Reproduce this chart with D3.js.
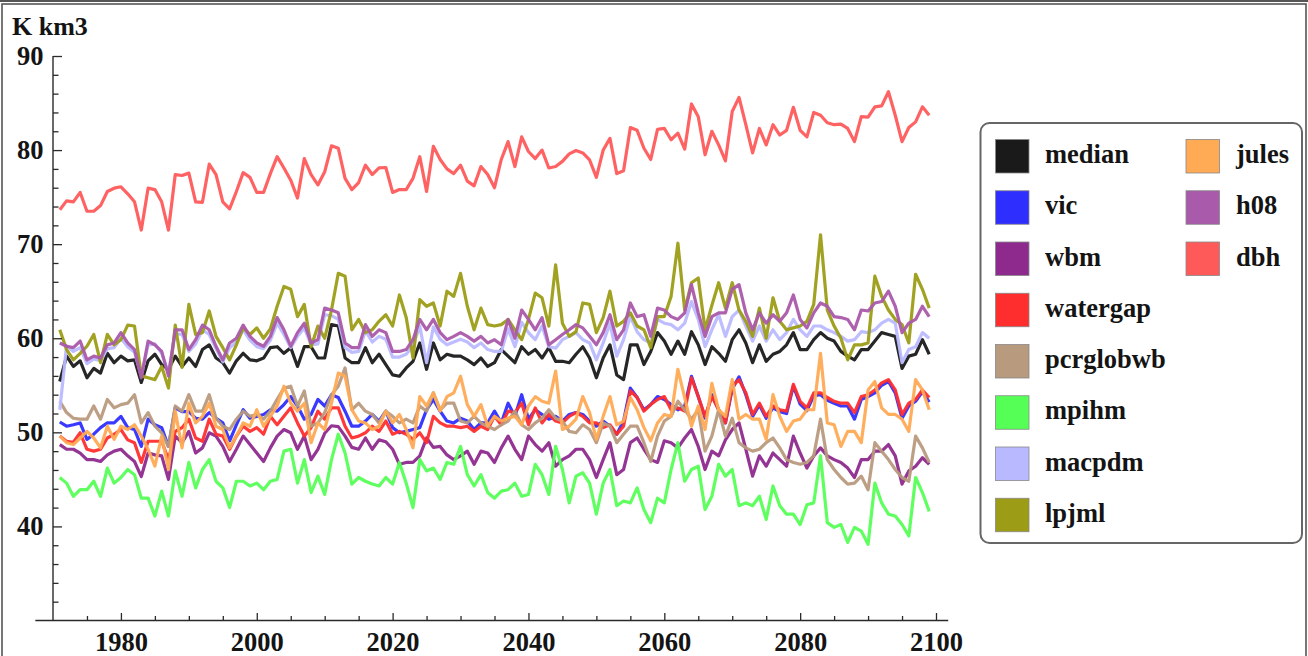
<!DOCTYPE html>
<html><head><meta charset="utf-8">
<script src="https://cdn.jsdelivr.net/npm/d3@7"></script>
<style>
html,body{margin:0;padding:0;background:#fff;}
svg{display:block;}
text{font-family:"Liberation Serif","Times New Roman",serif;font-weight:bold;fill:#141414;}
</style></head><body>
<svg id="chart" width="1308" height="656"></svg>
<script>
// ---------- data (annual values 1971..2099, K km3) ----------
const years = d3.range(1971, 2100);

const median = [
55.4,58.1,57.0,57.6,55.8,56.8,56.3,58.4,57.4,58.1,
57.6,57.7,55.3,57.6,58.3,57.2,56.7,58.1,57.0,57.9,
57.0,58.8,59.3,57.9,57.4,56.3,57.6,58.4,57.7,57.6,
57.9,59.0,59.1,58.4,59.0,57.0,59.1,59.1,57.9,57.9,
61.45,61.3,57.9,57.4,57.4,59.0,57.4,58.3,57.2,56.1,
55.96,56.85,57.55,59.5,56.7,59.5,57.7,58.3,58.1,58.1,
57.7,57.2,57.9,57.0,57.4,58.8,58.1,57.4,59.1,58.3,
58.8,57.9,59.0,57.55,57.55,57.4,58.3,59.1,57.9,55.8,
57.9,59.3,56.1,55.6,59.3,59.3,57.2,58.6,60.6,59.7,
58.3,59.7,58.3,60.7,59.3,57.2,59.1,58.4,57.55,59.85,
60.9,59.5,57.4,59.3,57.55,58.3,58.6,59.3,60.6,58.8,
58.8,59.85,60.6,60.0,59.7,58.6,58.1,57.7,58.8,58.8,
59.7,60.6,60.4,60.2,56.8,58.1,58.3,59.85,58.3];

const vic = [
51.1,50.65,50.8,51.0,49.25,49.8,50.5,51.0,51.0,51.7,
50.5,50.3,48.5,51.4,50.8,50.5,48.5,52.6,52.2,52.2,
51.5,51.4,52.1,51.5,51.0,49.1,50.8,52.4,51.5,51.7,
51.9,52.4,52.25,52.95,53.8,52.8,51.4,51.9,53.5,52.8,
54.0,53.7,52.25,50.65,50.65,51.2,51.9,51.2,52.25,50.5,
49.95,50.1,50.3,50.5,52.4,53.5,52.25,51.2,51.0,51.5,
51.2,50.3,51.0,51.0,52.25,51.0,53.1,51.7,54.0,51.4,
52.4,51.9,51.4,51.7,51.2,51.9,52.1,51.9,51.2,50.65,
51.2,50.65,49.8,51.2,54.7,53.7,52.4,52.95,53.8,53.5,
52.95,52.4,52.8,55.96,53.8,51.5,54.0,52.4,51.0,54.6,
55.9,54.0,51.7,52.9,51.5,52.6,52.2,52.0,54.9,53.0,
52.3,53.9,54.0,53.4,53.1,52.8,52.8,51.4,53.5,53.8,
54.2,55.0,55.4,54.2,51.5,52.8,53.3,54.3,53.2];

const wbm = [
48.7,48.2,48.2,47.8,47.1,47.1,46.9,47.6,48.0,48.2,
47.5,46.9,45.3,47.8,47.6,47.5,45.0,49.6,48.9,50.1,
47.8,48.35,49.95,49.6,48.5,46.9,48.2,49.6,48.7,47.8,
46.9,48.35,49.6,50.3,49.95,48.2,49.6,47.1,48.2,49.9,
50.7,50.6,49.6,48.4,48.2,49.4,48.2,49.2,49.0,48.2,
46.6,46.8,46.8,47.5,49.4,48.4,48.5,47.6,47.1,47.5,
48.0,46.6,48.0,47.8,46.8,48.35,49.6,48.2,47.1,49.6,
48.7,48.0,48.9,46.4,47.1,47.5,48.2,48.2,47.1,45.2,
47.1,48.9,45.5,46.05,48.9,49.4,48.2,47.1,46.8,49.1,
48.9,48.35,49.4,50.3,48.5,46.05,48.0,47.5,49.2,50.3,
51.0,48.2,45.35,47.5,46.4,47.8,47.1,46.4,49.6,47.8,
46.2,47.5,48.35,47.5,47.1,46.8,46.2,45.2,47.1,47.1,
48.0,48.0,48.7,47.5,44.5,45.9,46.4,47.3,46.6];

const watergap = [
49.6,49.05,48.95,49.95,48.2,48.0,48.2,49.4,49.8,50.3,
49.2,48.9,46.8,49.05,49.05,49.05,47.1,50.1,50.5,51.4,
49.4,49.05,51.4,49.8,49.6,48.2,49.6,50.65,50.1,50.5,
49.8,51.7,50.8,51.7,52.6,51.0,49.6,50.5,52.25,51.4,
52.6,52.6,50.65,49.4,49.6,49.95,50.65,50.1,51.2,49.8,
50.1,49.8,49.25,49.95,48.9,51.7,51.0,50.65,50.65,50.5,
50.65,50.1,50.65,50.3,51.7,50.8,52.25,52.1,53.1,50.8,
52.6,51.0,51.9,51.2,51.0,51.7,52.1,51.7,51.0,51.0,
50.5,50.8,49.8,50.65,54.4,53.7,52.25,52.95,53.5,53.8,
52.4,52.6,52.25,55.8,53.8,51.7,53.8,52.4,51.0,54.9,
55.6,54.2,51.9,53.1,51.7,52.8,52.4,52.25,55.1,53.3,
52.6,54.2,54.2,53.7,53.3,53.1,53.1,52.1,53.8,54.0,
54.5,55.25,55.6,54.5,51.9,53.1,53.5,54.5,53.7];

const pcrglobwb = [
53.3,52.1,51.5,51.4,51.4,52.8,51.4,53.5,52.6,52.95,
53.1,54.0,51.0,52.1,50.65,49.95,48.5,52.8,52.25,54.0,
52.25,52.25,54.0,51.5,50.65,50.3,51.4,52.25,51.7,51.9,
51.4,52.25,53.5,54.7,54.9,52.8,54.4,50.65,51.0,52.1,
54.0,54.9,56.85,52.4,53.1,52.25,51.9,51.0,52.25,51.7,
51.0,51.4,51.0,52.8,52.25,54.2,52.4,53.1,53.1,51.2,
51.0,51.7,51.0,50.65,50.3,50.8,51.2,52.25,50.8,50.3,
51.0,51.5,52.4,51.5,51.2,50.1,49.95,50.8,50.3,48.9,
51.0,50.65,48.9,49.8,50.65,50.65,48.9,46.9,49.6,51.2,
51.7,53.3,52.4,51.4,52.4,48.0,49.6,52.4,49.6,51.5,
48.9,48.35,48.0,48.2,48.9,49.4,48.35,47.1,46.8,46.6,
46.8,47.5,51.4,47.1,46.05,45.2,44.5,44.6,45.35,43.9,
48.9,48.0,47.1,46.05,45.2,44.8,49.6,48.35,46.8];

const mpihm = [
45.2,44.6,43.2,43.9,43.9,44.8,43.2,46.2,44.6,45.2,
46.05,45.5,43.0,43.0,41.1,43.75,41.1,45.9,43.2,46.8,
44.1,46.05,47.1,44.8,44.1,42.0,44.8,44.8,44.3,44.6,
43.9,44.8,45.0,48.0,48.2,44.6,47.1,43.6,45.35,43.4,
47.1,49.8,47.8,44.5,45.2,44.8,44.5,44.3,45.2,44.5,
46.8,44.6,42.0,47.1,45.9,46.2,45.0,46.8,46.6,48.5,
45.5,44.3,45.5,43.6,43.0,43.75,43.9,44.6,43.2,43.4,
46.6,45.5,43.4,48.5,46.05,42.5,45.35,45.7,44.6,41.3,
44.6,46.05,42.2,42.7,42.5,44.1,41.8,40.4,43.0,42.5,
46.05,48.9,44.8,46.05,46.4,41.8,43.2,46.6,45.35,46.05,
42.2,42.5,42.2,43.2,40.75,44.3,42.2,41.3,41.3,40.2,
42.3,42.5,47.5,40.4,39.9,40.2,38.3,39.9,39.5,38.1,
44.6,42.5,41.3,41.1,40.2,39.0,45.2,43.6,41.6];

const macpdm = [
52.4,59.2,58.6,59.0,57.3,57.8,57.6,58.9,59.0,60.0,
59.1,58.5,56.0,59.3,59.4,58.4,56.3,60.5,60.4,58.6,
59.4,60.9,60.4,58.9,57.5,59.0,59.6,60.9,59.8,59.1,
58.9,59.8,61.6,60.4,59.0,60.2,61.1,59.3,59.4,62.5,
62.4,62.0,59.0,58.5,58.6,60.8,59.6,60.2,59.9,58.0,
58.0,58.3,59.2,61.3,57.4,61.2,59.9,59.3,59.6,59.9,
59.6,59.0,59.5,58.8,58.6,58.6,61.0,59.1,61.7,60.6,
59.85,61.3,59.1,58.95,59.85,60.2,60.6,59.85,59.5,57.7,
59.5,61.6,58.1,59.85,62.3,60.7,59.85,59.5,62.0,61.6,
61.45,60.9,61.6,63.9,62.0,59.1,60.9,62.5,60.2,62.3,
63.0,61.3,59.7,61.3,59.7,60.9,59.85,60.6,62.0,60.9,
60.2,61.3,61.3,60.9,60.6,60.2,59.7,59.85,60.7,60.6,
60.9,61.6,62.0,61.6,57.4,58.8,59.1,60.6,60.0];

const lpjml = [
60.9,58.8,57.7,58.4,59.15,60.4,57.4,60.4,59.3,59.85,
61.4,61.3,56.0,55.8,55.6,57.0,54.7,61.4,56.9,63.6,
60.4,60.6,62.9,60.2,59.0,57.7,59.3,61.1,60.4,61.1,
60.0,61.0,63.4,65.5,65.2,62.3,63.6,59.1,61.3,60.0,
63.0,66.9,66.6,60.9,62.0,60.6,60.9,61.8,62.5,61.3,
64.6,62.2,57.9,64.1,63.4,63.75,61.3,65.0,64.45,66.9,
63.4,60.9,63.2,61.45,61.3,61.45,62.0,60.9,59.85,62.0,
64.8,64.3,61.3,67.8,61.6,60.2,60.7,63.75,63.6,60.6,
62.2,65.0,61.3,61.8,62.7,61.3,60.9,59.0,62.3,62.3,
64.45,70.1,63.0,65.9,66.4,60.9,63.5,65.9,63.2,65.9,
63.0,61.8,60.2,63.2,60.0,64.3,61.8,60.9,61.1,61.3,
61.8,63.6,71.0,63.0,61.3,60.0,57.7,59.3,59.3,59.5,
66.6,64.45,63.0,62.0,61.45,59.5,66.8,65.2,63.2];

const jules = [
49.6,48.9,48.7,49.4,50.1,49.4,48.35,50.65,49.25,50.65,
50.3,50.8,49.6,48.2,46.4,49.6,46.05,52.25,48.35,53.1,
51.0,51.7,53.1,50.65,50.3,48.35,49.6,51.0,50.65,52.4,
50.65,51.7,52.8,54.9,53.1,52.25,53.1,48.9,51.0,50.3,
53.1,56.3,55.96,52.4,51.2,51.0,50.3,50.65,52.25,51.0,
51.9,50.3,48.35,53.8,52.8,54.2,52.25,53.8,54.2,55.96,
52.95,51.7,52.95,50.65,51.7,51.2,51.5,51.7,50.8,52.8,
53.8,53.3,53.1,56.5,50.3,50.65,51.4,53.8,52.1,49.25,
51.7,53.8,50.8,51.2,53.7,52.4,50.5,49.1,51.0,51.9,
51.7,56.7,53.7,50.65,52.8,50.3,55.2,52.4,51.7,55.6,
51.4,51.9,51.4,51.4,49.25,54.0,51.7,50.1,51.2,51.4,
52.4,52.4,58.4,51.0,50.8,48.5,50.1,50.1,48.9,54.5,
55.4,52.6,51.9,51.9,51.4,50.1,55.6,54.5,52.4];

const h08 = [
59.5,59.15,59.0,59.7,57.7,58.1,57.9,59.3,59.5,60.6,
59.5,58.8,55.8,59.7,59.3,58.6,56.0,60.9,60.9,58.8,
59.85,61.4,60.9,59.15,57.7,59.5,60.0,61.4,60.2,59.5,
59.15,60.2,62.2,60.9,59.15,60.6,61.6,59.5,59.85,63.2,
63.0,62.7,59.5,59.0,59.0,61.45,60.2,60.9,60.6,58.6,
58.6,58.8,59.85,62.0,60.9,62.0,60.6,59.85,60.2,60.6,
60.2,59.7,60.2,59.5,59.85,59.3,62.0,60.0,63.0,62.0,
60.9,62.2,59.3,59.85,60.4,60.9,61.45,61.1,60.2,59.3,
60.6,62.5,59.85,60.9,63.75,62.3,62.5,60.2,63.2,63.0,
62.3,62.0,62.7,65.7,62.7,60.2,62.3,62.7,62.7,65.2,
65.7,62.7,60.9,62.7,61.6,62.5,61.8,62.7,64.6,62.0,
61.1,62.7,63.75,63.4,62.3,62.2,62.0,60.9,63.0,62.9,
63.75,63.9,65.0,63.4,60.6,61.6,62.0,63.4,62.3];

const dbh = [
73.65,74.6,74.5,75.5,73.5,73.5,74.1,75.6,75.95,76.1,
75.35,74.5,71.5,75.95,75.8,74.5,71.5,77.4,77.3,77.55,
74.5,74.45,78.5,77.4,74.5,73.75,75.6,77.6,77.1,75.5,
75.5,77.5,79.3,78.1,76.8,74.9,79.1,77.4,76.3,77.7,
80.45,80.2,77.0,75.8,76.55,78.4,77.4,78.1,78.15,75.5,
75.8,75.8,77.0,79.3,75.6,80.4,79.0,78.0,77.5,78.4,
76.7,76.2,78.25,77.4,76.0,79.0,80.9,78.25,81.4,79.85,
79.1,80.0,78.1,78.25,78.8,79.6,79.95,79.7,78.95,77.1,
80.0,81.25,77.5,77.8,82.4,82.1,80.2,79.0,82.2,82.3,
81.1,81.8,80.1,84.9,83.55,79.5,82.0,80.55,78.85,84.1,
85.6,82.7,79.7,82.3,80.55,82.7,81.6,82.1,84.55,82.1,
81.4,84.0,83.7,82.9,82.7,82.75,82.3,80.9,83.55,83.5,
84.6,84.7,86.2,83.7,80.9,82.4,83.0,84.6,83.7];

const seriesNames  = ["median","vic","wbm","watergap","pcrglobwb","mpihm","macpdm","lpjml","jules","h08","dbh"];
const seriesValues = [median, vic, wbm, watergap, pcrglobwb, mpihm, macpdm, lpjml, jules, h08, dbh];
const seriesColors = ["#1a1a1a","#2e2eff","#8e2a8e","#ff2e2e","#b89a7e","#55ff55","#b9b9ff","#9c9c16","#ffaa55","#aa5aaa","#ff5a5a"];

const xMajorTicks = [1980, 2000, 2020, 2040, 2060, 2080, 2100];
const yMajorTicks = [40, 50, 60, 70, 80, 90];
const yAxisTitle = "K km3";

// ---------- drawing ----------
const svg = d3.select("#chart");
const FONT = 26.5;

const x = d3.scaleLinear().domain([1970, 2100]).range([53, 936]);
const y = d3.scaleLinear().domain([30, 90]).range([620.5, 56]);

// outer frame
svg.append("line").attr("x1", 0).attr("x2", 1308).attr("y1", 1).attr("y2", 1)
   .attr("stroke", "#555").attr("stroke-width", 2);
svg.append("rect").attr("x", 2).attr("y", 4).attr("width", 1304).attr("height", 660)
   .attr("fill", "none").attr("stroke", "#555").attr("stroke-width", 1.6);

// series lines
const line = d3.line().x((d, i) => x(years[i])).y(d => y(d));
const g = svg.append("g");
seriesValues.forEach((vals, k) => {
  g.append("path").datum(vals)
    .attr("d", line)
    .attr("fill", "none")
    .attr("stroke", seriesColors[k])
    .attr("stroke-width", 3.2)
    .attr("stroke-linejoin", "round")
    .attr("stroke-opacity", 0.95);
});

// x axis
const xMinor = d3.range(1975, 2100, 5).filter(v => !xMajorTicks.includes(v));
const gx = svg.append("g").attr("transform", `translate(0,${y(30)})`);
gx.call(d3.axisBottom(x).tickValues(xMinor).tickSize(-4.5).tickFormat(""));
gx.append("g").call(d3.axisBottom(x).tickValues(xMajorTicks).tickSize(-7.5).tickPadding(11.5).tickFormat(d3.format("d")));
gx.selectAll(".domain").remove();
gx.append("line").attr("x1", x(1967.4)).attr("x2", x(2101.8)).attr("y1", 0).attr("y2", 0)
  .attr("stroke", "#2a2a2a").attr("stroke-width", 1.4);

// y axis
const yMinor = d3.range(32, 90, 2).filter(v => !yMajorTicks.includes(v));
const gy = svg.append("g").attr("transform", `translate(${x(1970)},0)`);
gy.call(d3.axisLeft(y).tickValues(yMinor).tickSize(-5.5).tickFormat(""));
gy.append("g").call(d3.axisLeft(y).tickValues(yMajorTicks).tickSize(-9).tickPadding(9.5).tickFormat(d3.format("d")));
gy.selectAll(".domain").remove();
gy.append("line").attr("x1", 0).attr("x2", 0).attr("y1", y(90)).attr("y2", y(30))
  .attr("stroke", "#2a2a2a").attr("stroke-width", 1.4);

svg.selectAll(".tick line").attr("stroke", "#2a2a2a").attr("stroke-width", 1.3);
svg.selectAll(".tick text").attr("font-size", FONT)
   .attr("font-family", '"Liberation Serif","Times New Roman",serif')
   .attr("font-weight", "bold").attr("fill", "#141414");

// y title
svg.append("text").attr("x", 12).attr("y", 35).attr("font-size", 26).text(yAxisTitle);

// legend
const lg = svg.append("g");
lg.append("rect").attr("x", 980.5).attr("y", 123).attr("width", 321.5).attr("height", 420)
  .attr("rx", 9).attr("fill", "#fff").attr("stroke", "#666").attr("stroke-width", 2);
seriesNames.forEach((name, k) => {
  const col = k < 8 ? 0 : 1;
  const row = k < 8 ? k : k - 8;
  const sx = col === 0 ? 995.5 : 1186;
  const sy = 139.5 + row * 51.25;
  lg.append("rect").attr("x", sx).attr("y", sy).attr("width", 33.5).attr("height", 33.5)
    .attr("fill", seriesColors[k]).attr("stroke", "#888").attr("stroke-width", 0.8);
  lg.append("text").attr("x", col === 0 ? 1045 : 1236).attr("y", sy + 23.5)
    .attr("font-size", FONT).text(name);
});
</script>
</body></html>
